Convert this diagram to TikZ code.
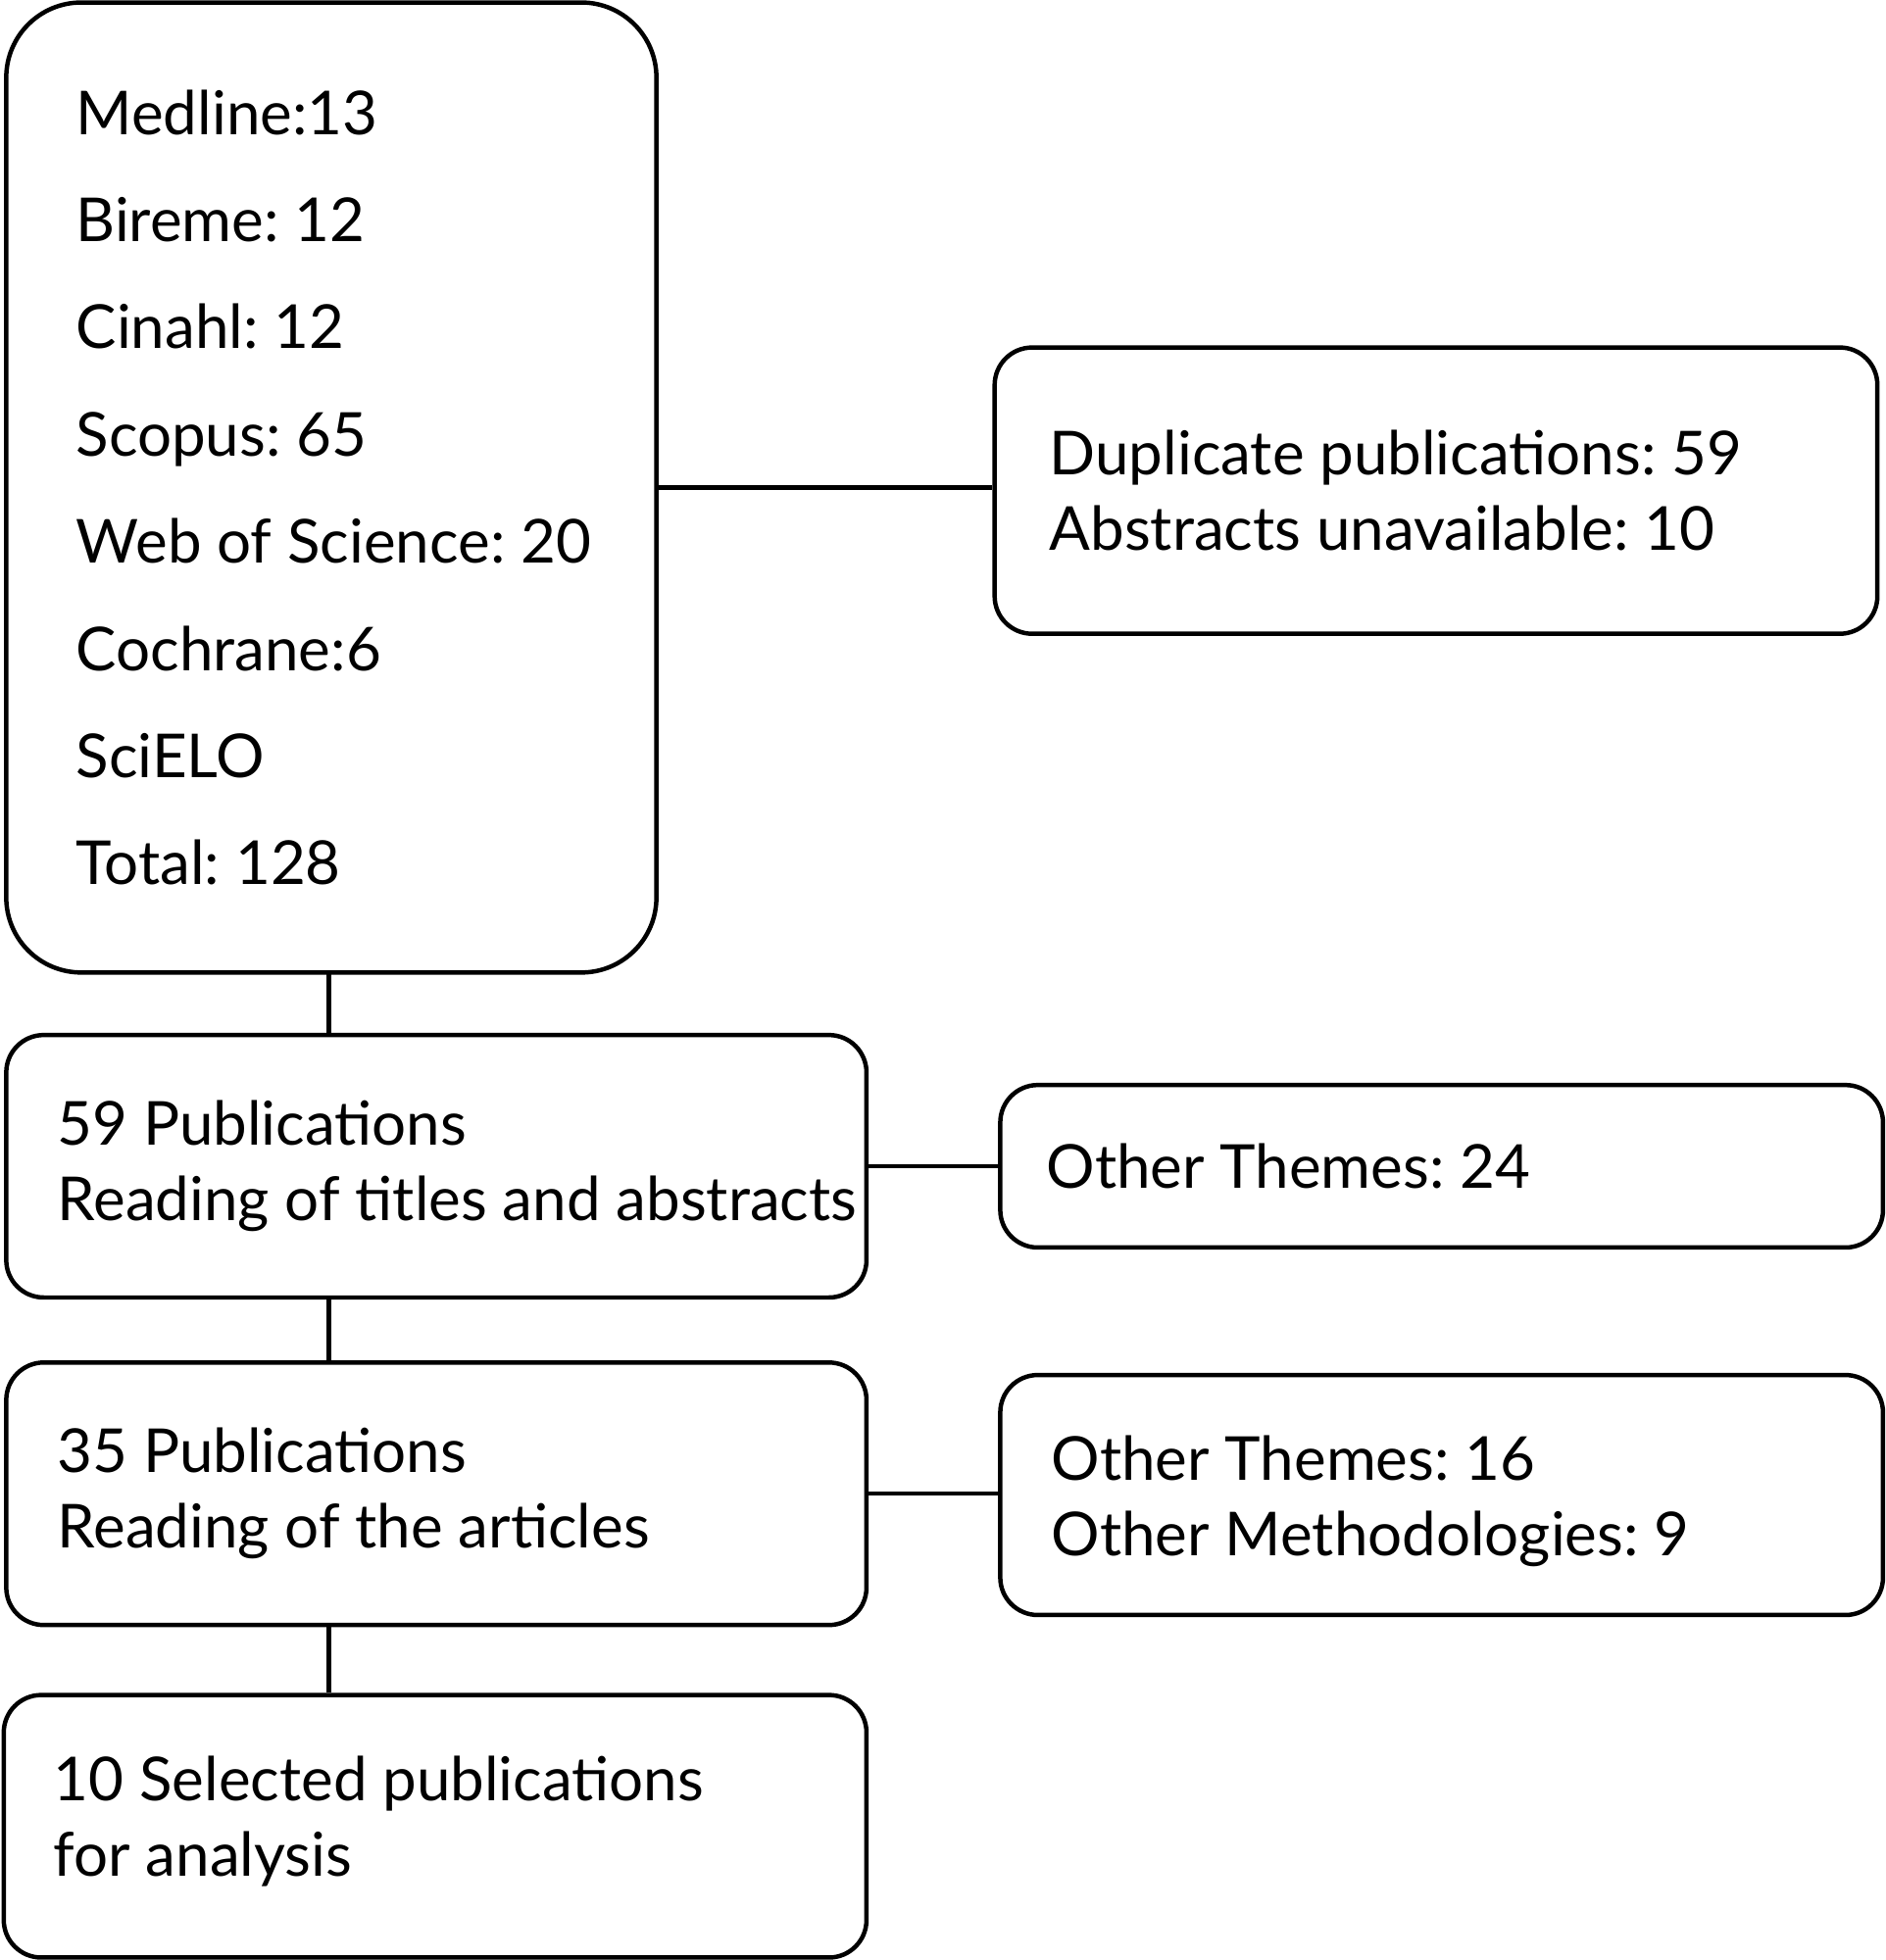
\documentclass[tikz,border=0pt]{standalone}
\usepackage{fontspec}
\setmainfont{Lato}
\frenchspacing
\begin{document}
\begin{tikzpicture}[
    x=1cm,y=1cm,
    flowbox/.style={draw,line width=1pt,inner sep=0pt},
    bigbox/.style={flowbox,rounded corners=6mm,
      minimum width=5.2cm,minimum height=7.76cm},
    stepbox/.style={flowbox,rounded corners=3mm,minimum width=6.88cm,
      minimum height=2.1cm},
    sidebox/.style={flowbox,rounded corners=3mm,minimum width=7.06cm},
    boxtext/.style={anchor=west,align=left,inner sep=0pt,
      font=\fontsize{13.8}{17.2}\selectfont}
  ]
    \useasboundingbox (0,0) rectangle (15.08,-15.68);
    % search results per database
    \node[bigbox] (Search) at (2.65,-3.90) {};
    \node[boxtext,font=\fontsize{13.8}{24.4}\selectfont] (SearchText) at ([xshift=5.7mm]Search.west) {Medline:13\\Bireme: 12\\Cinahl: 12\\Scopus: 65\\Web of Science: 20\\Cochrane:6\\SciELO\\Total: 128};
    \node[sidebox,minimum height=2.29cm] (Excluded) at (11.485,-3.925) {};
    \node[boxtext] (ExcludedText) at ([xshift=4.5mm]Excluded.west) {Duplicate publications: 59\\Abstracts unavailable: 10};

    % screening steps
    \node[stepbox] (Titles) at (3.49,-9.33) {};
    \node[boxtext] (TitlesText) at ([xshift=4.2mm]Titles.west) {59 Publications\\Reading of titles and abstracts};
    \node[sidebox,minimum height=1.3cm] (ThemesA) at (11.53,-9.33) {};
    \node[boxtext] (ThemesAText) at ([xshift=3.8mm]ThemesA.west) {Other Themes: 24};

    \node[stepbox] (Articles) at (3.49,-11.95) {};
    \node[boxtext] (ArticlesText) at ([xshift=4.2mm]Articles.west) {35 Publications\\Reading of the articles};
    \node[sidebox,minimum height=1.92cm] (ThemesB) at (11.53,-11.96) {};
    \node[boxtext] (ThemesBText) at ([xshift=4.2mm,yshift=-0.5mm]ThemesB.west) {Other Themes: 16\\Other Methodologies: 9};

    \node[stepbox,minimum width=6.9cm] (Selected) at (3.48,-14.61) {};
    \node[boxtext] (SelectedText) at ([xshift=4.1mm,yshift=0.4mm]Selected.west) {10 Selected publications\\for analysis};

    \draw[line width=1pt] (Search.east) -- (Search.east -| Excluded.west);
    \draw[line width=1pt] (Titles.east) -- (ThemesA.west);
    \draw[line width=1pt] (Articles.east) -- (Articles.east -| ThemesB.west);
    \draw[line width=1pt] (2.63,-7.78) -- (2.63,-7.78 |- Titles.north);
    \draw[line width=1pt] (Titles.south -| 2.63,0) -- (Articles.north -| 2.63,0);
    \draw[line width=1pt] (Articles.south -| 2.63,0) -- (Selected.north -| 2.63,0);
\end{tikzpicture}
\end{document}
